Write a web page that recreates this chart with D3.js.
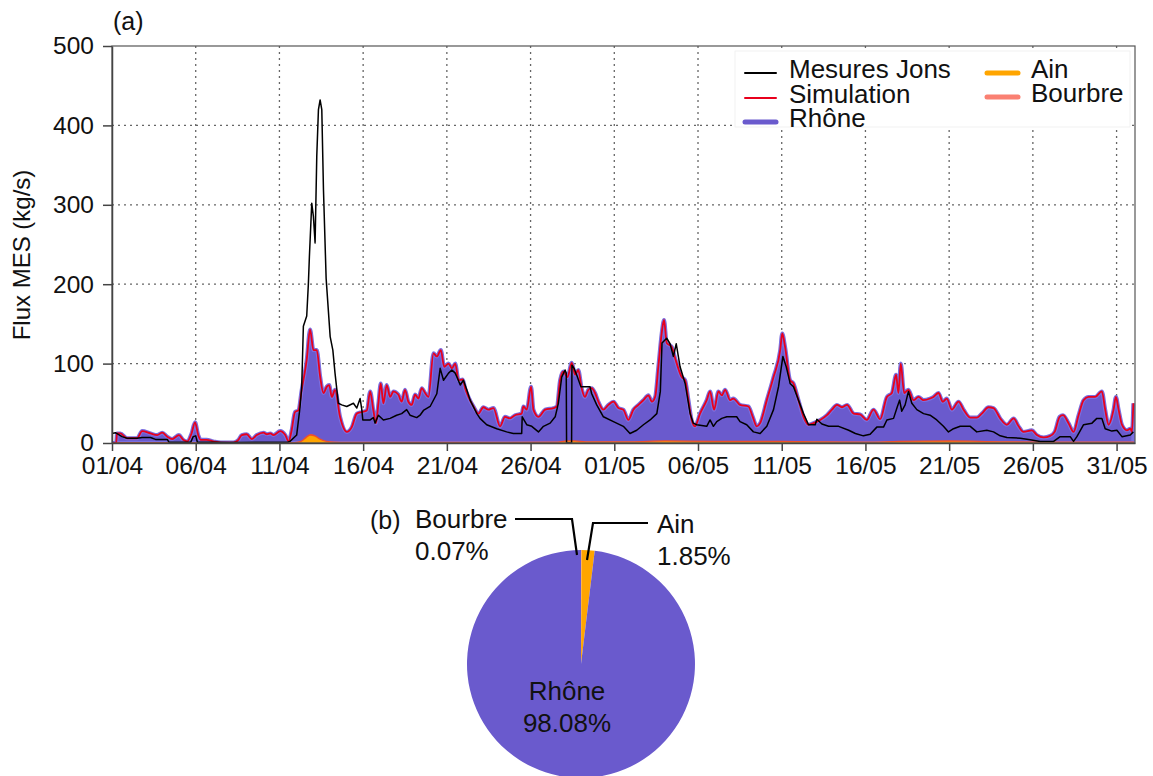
<!DOCTYPE html>
<html lang="fr">
<head>
<meta charset="utf-8">
<title>Flux MES</title>
<script src="https://cdn.jsdelivr.net/npm/d3@7/dist/d3.min.js"></script>
<style>
  body { margin: 0; background: #fff; }
  svg { display: block; font-family: "Liberation Sans", Arial, sans-serif; }
  .grid line { stroke: #666; stroke-width: 1.3; stroke-dasharray: 2,4; }
</style>
</head>
<body>
<div id="vizContainer"></div>
<script>
// ----------- data -----------
// days since 01/04 00:00
var tickDays = [0, 5, 10, 15, 20, 25, 30, 35, 40, 45, 50, 55, 60];
var tickLabels = ["01/04","06/04","11/04","16/04","21/04","26/04","01/05","06/05","11/05","16/05","21/05","26/05","31/05"];
var yTicks = [0, 100, 200, 300, 400, 500];

// simulation (red line, Rhône fill underneath)
var simDays = [0,0.25,0.3,0.5,0.9,1.5,1.8,2.3,2.7,3.0,3.3,3.6,4.0,4.25,4.5,4.75,4.96,5.15,5.3,5.65,6.05,6.5,7.25,7.55,7.75,8.05,8.35,8.65,9.05,9.25,9.45,9.65,10.05,10.35,10.55,10.73,10.93,11.13,11.33,11.63,11.83,12.03,12.23,12.43,12.63,12.83,12.97,13.13,13.32,13.62,14.02,14.32,14.62,14.92,15.22,15.42,15.61,15.77,15.91,16.05,16.21,16.41,16.61,16.81,17.1,17.3,17.5,17.7,17.9,18.1,18.3,18.5,18.7,18.9,19.2,19.4,19.64,19.84,20.1,20.3,20.5,20.7,20.95,21.09,21.29,21.59,21.89,22.18,22.48,22.78,23.18,23.47,23.77,24.07,24.47,24.57,24.77,25.03,25.17,25.47,25.87,26.37,26.57,26.76,26.96,27.2,27.46,27.66,27.85,28.05,28.25,28.45,28.65,28.85,29.05,29.35,29.65,29.95,30.25,30.54,30.84,31.14,31.44,31.74,32.04,32.24,32.44,32.63,32.83,32.97,33.13,33.43,33.63,34.03,34.23,34.43,34.62,34.82,35.12,35.52,35.72,35.96,36.22,36.42,36.62,36.92,37.11,37.51,38.01,38.27,38.51,38.71,39.11,39.51,39.91,40.03,40.2,40.5,40.7,41.0,41.3,41.6,41.9,42.3,42.7,43.0,43.3,43.6,43.9,44.3,44.68,45.08,45.48,45.88,46.28,46.58,46.83,46.97,47.11,47.31,47.57,47.87,48.17,48.47,48.86,49.06,49.36,49.62,49.86,50.16,50.56,50.86,51.26,51.65,51.95,52.35,52.65,53.05,53.45,53.85,54.15,54.44,54.94,55.24,55.64,56.04,56.3,56.6,56.8,57.13,57.43,57.73,58.03,58.33,58.72,59.12,59.32,59.52,59.82,59.96,60.12,60.32,60.62,60.82,60.92,61.0];
var simFlux = [0,0,12,12,6,6,15,12,10,13,8,5,10,4,2,12,26,10,4,4,2,0.5,0.5,4,10,11,5,10,13,11,12,10,15,10,2,16,39,41,67,105,143,117,117,84,63,71,73,58,67,33,14,20,37,39,41,65,41,25,50,75,50,73,58,65,61,52,67,52,48,61,56,69,63,58,113,109,117,96,100,94,100,79,80,69,58,46,37,45,42,44,21,33,31,35,37,46,42,71,42,33,42,44,46,79,90,83,101,86,92,69,58,67,69,63,52,42,48,52,44,42,29,42,48,54,60,52,58,96,138,155,126,121,107,83,79,54,29,21,37,54,65,42,65,60,67,54,56,48,46,33,21,25,54,83,117,138,121,79,75,54,33,23,25,29,35,42,48,45,48,37,36,29,42,30,58,63,86,63,100,63,67,54,58,54,56,58,63,52,56,42,52,42,32,32,37,45,44,31,23,31,21,14,16,10,7,9,14,33,35,25,14,35,54,58,58,65,42,23,42,58,42,23,16,18,14,50];

// Mesures Jons (black line)
var jonsDays = [0,0.2,0.6,0.9,1.5,1.8,2.3,2.6,3.3,3.4,4.7,4.85,5.0,5.1,6.0,7.0,9.0,10.5,10.63,11.03,11.23,11.33,11.43,11.63,11.73,11.79,11.93,12.03,12.13,12.23,12.33,12.43,12.53,12.63,12.79,13.03,13.19,13.32,13.52,13.72,14.02,14.42,14.62,14.82,14.92,14.98,15.42,15.61,15.71,15.91,16.21,16.61,17.0,17.3,17.6,17.8,18.2,18.4,18.6,19.0,19.4,19.6,19.8,20.1,20.3,20.5,20.8,20.99,21.19,21.39,21.79,21.98,22.38,22.98,23.57,23.97,24.47,24.5,24.77,25.07,25.47,25.77,26.17,26.47,26.66,26.86,27.06,27.13,27.15,27.45,27.47,27.6,27.8,28.0,28.3,28.55,28.65,28.95,29.35,29.95,30.54,30.94,31.34,31.74,32.14,32.54,32.75,32.85,33.13,33.33,33.53,33.7,33.93,34.23,34.53,34.72,34.92,35.52,35.72,35.92,36.12,36.42,36.72,37.31,37.51,37.91,38.31,38.71,39.11,39.51,39.81,40.07,40.27,40.5,40.7,41.0,41.3,41.6,42.0,42.1,42.4,42.8,43.4,44.0,44.4,44.88,45.28,45.68,46.08,46.28,46.68,46.88,47.04,47.17,47.37,47.57,47.77,48.07,48.47,48.86,49.26,49.66,49.96,50.26,50.66,51.26,51.65,52.25,52.65,53.05,53.45,54.25,54.84,55.44,56.24,56.63,57.23,57.43,57.63,58.03,58.53,58.82,59.12,59.32,59.72,60.02,60.32,60.82,61.0];
var jonsFlux = [12,13,8,6,6,7,7,4.5,4.5,1,1,8,9,1,1,0.5,1,1,2,10,45,70,147,160,201,235,302,285,252,361,420,432,420,319,207,134,117,88,50,48,46,50,44,56,42,29,29,32,25,35,29,31,35,37,42,35,32,35,41,46,62,94,79,88,92,88,73,79,67,54,37,31,23,18,14,12,12,33,23,21,14,21,25,33,50,83,92,88,0,0,98,94,83,71,71,71,62,48,33,27,21,12,16,23,29,37,65,126,132,125,109,125,96,75,37,25,23,21,29,21,27,31,33,33,27,23,14,12,21,42,71,109,96,75,71,54,37,23,23,30,24,21,21,16,12,9,11,20,20,29,31,44,54,40,48,65,50,42,37,35,29,21,14,18,21,21,14,16,14,9,7,6,4,2,2,8,8,2,8,23,25,31,31,18,15,16,8,10,14];

// Ain and Bourbre contributions (bottom of the stack)
var ainDays    = [0,10.9,11.3,11.6,11.85,12.1,12.4,12.8,13.3,14,20,26.5,27.2,27.6,28.3,31,33,36,40,42,45,47,50,53,56,61];
var ainFlux    = [0.4,0.5,2,7,10,9,5,2,1,0.8,0.8,1,2.5,2.5,1.5,1.5,2.5,2,2,1.5,1,2,2.5,1.5,1,1];
var bourbreFlux= [0.05,0.05,0.2,0.5,0.6,0.5,0.3,0.2,0.1,0.05,0.05,0.05,0.1,0.1,0.05,0.05,0.1,0.05,0.05,0.05,0.05,0.05,0.1,0.05,0.05,0.05];

// pie (b)
var pieLabels = ["Bourbre", "Ain", "Rhône"];
var pieShares = [0.07, 1.85, 98.08];
var pieColors = ["#fa8072", "#ffa500", "#6a5acd"];

// ----------- canvas -----------
var width = 1153, height = 776;
var svg = d3.select("#vizContainer").append("svg")
  .attr("width", width).attr("height", height);
svg.append("rect").attr("width", width).attr("height", height).attr("fill", "#fff");

var plotLeft = 112, plotRight = 1135, plotTop = 46, plotBottom = 443;
var x = d3.scaleLinear().domain([0, 61.1]).range([plotLeft, plotRight]);
var y = d3.scaleLinear().domain([0, 500]).range([plotBottom, plotTop]);

svg.append("clipPath").attr("id", "plotclip").append("rect")
  .attr("x", plotLeft).attr("y", plotTop)
  .attr("width", plotRight - plotLeft).attr("height", plotBottom - plotTop);

// grid
var grid = svg.append("g").attr("class", "grid");
grid.selectAll(".gx").data(tickDays.slice(1)).enter().append("line")
  .attr("x1", function(d){ return x(d); }).attr("x2", function(d){ return x(d); })
  .attr("y1", plotTop).attr("y2", plotBottom);
grid.selectAll(".gy").data(yTicks.slice(1, -1)).enter().append("line")
  .attr("x1", plotLeft).attr("x2", plotRight)
  .attr("y1", function(d){ return y(d); }).attr("y2", function(d){ return y(d); });

var plot = svg.append("g").attr("clip-path", "url(#plotclip)");

var sim = simDays.map(function(d, i){ return [d, simFlux[i]]; });
var jons = jonsDays.map(function(d, i){ return [d, jonsFlux[i]]; });
var ain = ainDays.map(function(d, i){ return [d, ainFlux[i], bourbreFlux[i]]; });

// Rhône (fill under the simulated total)
plot.append("path").datum(sim)
  .attr("fill", "#6a5acd")
  .attr("stroke", "#7b6fe0").attr("stroke-width", 4)
  .attr("d", d3.area().curve(d3.curveMonotoneX)
    .x(function(d){ return x(d[0]); }).y0(y(0)).y1(function(d){ return y(d[1]); }));

// Ain and Bourbre
plot.append("path").datum(ain)
  .attr("fill", "#ffa500")
  .attr("d", d3.area().curve(d3.curveMonotoneX)
    .x(function(d){ return x(d[0]); }).y0(y(0)).y1(function(d){ return y(d[1]); }));
plot.append("path").datum(ain)
  .attr("fill", "#fa8072").attr("stroke", "#f0502a").attr("stroke-width", 1.2)
  .attr("d", d3.area().curve(d3.curveMonotoneX)
    .x(function(d){ return x(d[0]); })
    .y0(function(d){ return y(d[1]); }).y1(function(d){ return y(d[1] + d[2]); }));

// simulation line
plot.append("path").datum(sim)
  .attr("fill", "none").attr("stroke", "#e8001c").attr("stroke-width", 1.8)
  .attr("d", d3.line().curve(d3.curveMonotoneX)
    .x(function(d){ return x(d[0]); }).y(function(d){ return y(d[1]); }));

// measured
plot.append("path").datum(jons)
  .attr("fill", "none").attr("stroke", "#000").attr("stroke-width", 1.5)
  .attr("stroke-linejoin", "round")
  .attr("d", d3.line()
    .x(function(d){ return x(d[0]); }).y(function(d){ return y(d[1]); }));

// frame
svg.append("rect").attr("x", plotLeft).attr("y", plotTop)
  .attr("width", plotRight - plotLeft).attr("height", plotBottom - plotTop)
  .attr("fill", "none").attr("stroke", "#555").attr("stroke-width", 1.2);

// axes
var xAxis = d3.axisBottom(x).tickValues(tickDays)
  .tickFormat(function(d, i){ return tickLabels[i]; })
  .tickSizeInner(8).tickSizeOuter(0).tickPadding(6);
var gx = svg.append("g").attr("transform", "translate(0," + plotBottom + ")").call(xAxis);
var yAxis = d3.axisLeft(y).tickValues(yTicks).tickSizeInner(9).tickSizeOuter(0).tickPadding(9);
var gy = svg.append("g").attr("transform", "translate(" + plotLeft + ",0)").call(yAxis);
[gx, gy].forEach(function(g){
  g.selectAll("path,line").attr("stroke", "#444").attr("stroke-width", 1.5);
  g.selectAll("text").attr("font-size", 24.5).attr("fill", "#111")
    .attr("font-family", "Liberation Sans, Arial, sans-serif");
});

svg.append("text").attr("transform", "translate(30,255) rotate(-90)")
  .attr("text-anchor", "middle").attr("font-size", 24).attr("fill", "#111")
  .text("Flux MES (kg/s)");
svg.append("text").attr("x", 113).attr("y", 30).attr("font-size", 25).attr("fill", "#111").text("(a)");

// legend
var legend = svg.append("g");
legend.append("rect").attr("x", 735).attr("y", 51).attr("width", 395).attr("height", 76)
  .attr("fill", "#fff").attr("stroke", "#eee").attr("stroke-width", 0.8);
var legItems = [
  { label: "Mesures Jons", color: "#000",    w: 2, lx: 745, tx: 789,  ty: 78 },
  { label: "Simulation",   color: "#e8001c", w: 2, lx: 745, tx: 789,  ty: 103 },
  { label: "Rhône",        color: "#6a5acd", w: 5, lx: 745, tx: 789,  ty: 127 },
  { label: "Ain",          color: "#ffa500", w: 5, lx: 987, tx: 1031, ty: 78 },
  { label: "Bourbre",      color: "#fa8072", w: 5, lx: 987, tx: 1031, ty: 102 }
];
legItems.forEach(function(it){
  legend.append("line").attr("x1", it.lx).attr("x2", it.lx + 31)
    .attr("y1", it.ty - 5).attr("y2", it.ty - 5)
    .attr("stroke", it.color).attr("stroke-width", it.w).attr("stroke-linecap", "round");
  legend.append("text").attr("x", it.tx).attr("y", it.ty).attr("font-size", 26)
    .attr("fill", "#111").text(it.label);
});

// ----------- pie (b) -----------
var cx = 581, cy = 664, r = 114;
var pie = d3.pie().sort(null).value(function(d){ return d; });
var arcs = pie(pieShares);
var arc = d3.arc().innerRadius(0).outerRadius(r);
var pg = svg.append("g").attr("transform", "translate(" + cx + "," + cy + ")");
pg.selectAll("path").data(arcs).enter().append("path")
  .attr("d", arc).attr("fill", function(d, i){ return pieColors[i]; });

svg.append("text").attr("x", 370).attr("y", 529).attr("font-size", 25).attr("fill", "#111").text("(b)");

var pieText = [
  { x: 415, y: 528, anchor: "start" },
  { x: 657, y: 533, anchor: "start" },
  { x: 567, y: 700, anchor: "middle" }
];
pieText.forEach(function(p, i){
  var t = svg.append("text").attr("font-size", 26).attr("fill", "#111").attr("text-anchor", p.anchor);
  t.append("tspan").attr("x", p.x).attr("y", p.y).text(pieLabels[i]);
  t.append("tspan").attr("x", p.x).attr("y", p.y + 32).text(pieShares[i].toFixed(2) + "%");
});

// leader lines (relative to pie centre)
var leaders = [
  [[-66, -145], [-9, -145], [-4, -109]],
  [[67, -141], [12, -141], [6, -104]]
];
leaders.forEach(function(pts){
  pg.append("path").attr("fill", "none").attr("stroke", "#000").attr("stroke-width", 2.2)
    .attr("d", d3.line()(pts));
});
</script>
</body>
</html>
